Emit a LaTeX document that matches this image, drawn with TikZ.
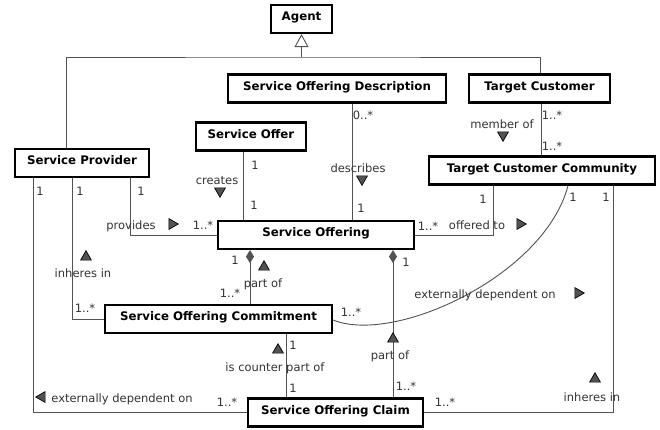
\documentclass[tikz,border=0pt]{standalone}
\usepackage{fontspec}
\setmainfont{DejaVu Sans}
\usepackage{tikz}
\colorlet{colorLine}{black!68}
\colorlet{colorLab}{black!80}
\colorlet{colorMark}{black!68}
\usetikzlibrary{arrows.meta}
\usetikzlibrary{shapes.geometric}
\tikzset{
   cls/.style={draw=black,line width=2.2pt,fill=white,minimum height=28pt,inner xsep=0pt,
      text height=9pt,text depth=5.8pt,font=\fontsize{11.8}{14}\selectfont\bfseries},
   assoc/.style={draw=colorLine,line width=0.9pt},
   isa/.style={assoc,-{Triangle[open,length=13pt,width=14pt]}},
   partof/.style={assoc,{Diamond[length=13pt,width=8pt,fill=colorMark]}-},
   mult/.style={text=colorLab,inner sep=0pt,text height=8.4pt,text depth=0pt,
      font=\fontsize{11.5}{13}\selectfont},
   rolelab/.style={mult},
   dirmark/.style={regular polygon,regular polygon sides=3,minimum size=12.5pt,inner sep=0pt,
      draw=black,line width=0.7pt,fill=colorMark,shape border rotate=#1},
}

\begin{document}
\begin{tikzpicture}[x=1pt,y=-1pt]
        \useasboundingbox (0,0) rectangle (660,429);

        \node[cls,minimum width=61pt]  (agent)  at (301.5, 19)   {Agent};
        \node[cls,minimum width=218pt] (sod)    at (337,   88.5) {Service Offering Description};
        \node[cls,minimum width=141pt] (tc)     at (539.5, 88.5) {Target Customer};
        \node[cls,minimum width=110pt] (soffer) at (251,  136.5) {Service Offer};
        \node[cls,minimum width=134pt] (sp)     at (82,   163)   {Service Provider};
        \node[cls,minimum width=226pt] (tcc)    at (542,  170.5) {Target Customer Community};
        \node[cls,minimum width=196pt] (so)     at (316,  235)   {Service Offering};
        \node[cls,minimum width=227pt] (soc)    at (218.5,319)   {Service Offering Commitment};
        \node[cls,minimum width=175pt] (claim)  at (335.5,412.5) {Service Offering Claim};

        % generalisation
        \coordinate (genjoin) at (301.5,57);
        \draw[assoc] ([xshift=-16pt]sp.north) |- (genjoin) -| ([xshift=0.5pt]tc.north);
        \draw[isa] (genjoin) -- (agent.south);

        % associations
        \draw[assoc] ([xshift=48pt]sp.south) |- (so.west);
        \draw[assoc] ([xshift=-10pt]sp.south) |- (soc.west);
        \draw[assoc] ([xshift=-49pt]sp.south) |- (claim.west);
        \draw[assoc] ([xshift=-8pt]soffer.south) -- ([xshift=-8pt]soffer.south |- so.north);
        \draw[assoc] ([xshift=15pt]sod.south) -- ([xshift=15pt]sod.south |- so.north);
        \draw[assoc] ([xshift=1.5pt]tc.south) -- ([xshift=1.5pt]tc.south |- tcc.north);
        \draw[assoc] ([xshift=-49pt]tcc.south) |- (so.east);
        \draw[assoc] ([xshift=71pt]tcc.south) |- (claim.east);
        \draw[assoc] ([xshift=26pt]tcc.south) .. controls (545,275) and (395,345) .. ([yshift=-1pt]soc.east);
        \draw[partof] ([xshift=-66pt]so.south) -- ([xshift=-66pt]so.south |- soc.north);
        \draw[partof] ([xshift=77pt]so.south) -- ([xshift=77pt]so.south |- claim.north);
        \draw[assoc] ([xshift=67.5pt]soc.south) -- ([xshift=67.5pt]soc.south |- claim.north);

        % provides
        \node[mult] (m1) at (141,191) {1};
        \node[mult] (m2) at (203,225) {1..*};
        \node[rolelab] (l1) at (131,225) {provides};
        \node[dirmark=-90] (d1) at (172,224) {};

        % creates
        \node[mult] (m3) at (255,165) {1};
        \node[mult] (m4) at (254,205) {1};
        \node[rolelab] (l2) at (217,180) {creates};
        \node[dirmark=180] (d2) at (220,191) {};

        % describes
        \node[mult] (m5) at (363,115) {0..*};
        \node[mult] (m6) at (361,208) {1};
        \node[rolelab] (l3) at (358,168) {describes};
        \node[dirmark=180] (d3) at (362,179) {};

        % member of
        \node[mult] (m7) at (552,115) {1..*};
        \node[mult] (m8) at (552,146) {1..*};
        \node[rolelab] (l4) at (502,124) {member of};
        \node[dirmark=180] (d4) at (503,135) {};

        % offered to
        \node[mult] (m9) at (483,199) {1};
        \node[mult] (m10) at (428,226) {1..*};
        \node[rolelab] (l5) at (477,225) {offered to};
        \node[dirmark=-90] (d5) at (520,224) {};

        % inheres in (community)
        \node[mult] (m11) at (606,197) {1};
        \node[mult] (m12) at (445,402) {1..*};
        \node[rolelab] (l6) at (592,397) {inheres in};
        \node[dirmark=0] (d6) at (595,379) {};

        % externally dependent on (community)
        \node[mult] (m13) at (573,197) {1};
        \node[mult] (m14) at (351,312) {1..*};
        \node[rolelab] (l7) at (485,294) {externally dependent on};
        \node[dirmark=-90] (d7) at (578,293) {};

        % part of (commitment)
        \node[mult] (m15) at (235,260) {1};
        \node[mult] (m16) at (230,293) {1..*};
        \node[rolelab] (l8) at (263,283) {part of};
        \node[dirmark=0] (d8) at (264,267) {};

        % part of (claim)
        \node[mult] (m17) at (406,262) {1};
        \node[mult] (m18) at (406,386) {1..*};
        \node[rolelab] (l9) at (390,355) {part of};
        \node[dirmark=0] (d9) at (393,339) {};

        % is counter part of
        \node[mult] (m19) at (293,345) {1};
        \node[mult] (m20) at (293,388) {1};
        \node[rolelab] (l10) at (275,367) {is counter part of};
        \node[dirmark=0] (d10) at (278,350) {};

        % inheres in (provider)
        \node[mult] (m21) at (80,191) {1};
        \node[mult] (m22) at (85,308) {1..*};
        \node[rolelab] (l11) at (83,273) {inheres in};
        \node[dirmark=0] (d11) at (86,257) {};

        % externally dependent on (provider)
        \node[mult] (m23) at (40,191) {1};
        \node[mult] (m24) at (227,402) {1..*};
        \node[rolelab] (l12) at (122,398) {externally dependent on};
        \node[dirmark=90] (d12) at (42,397) {};

      \end{tikzpicture}
\end{document}
